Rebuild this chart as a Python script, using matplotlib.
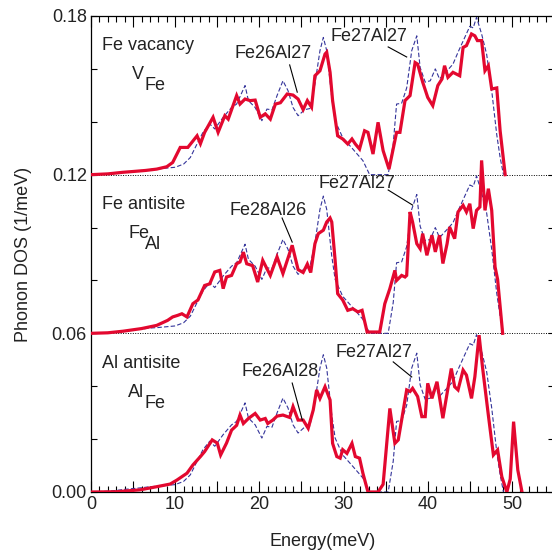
import numpy as np
import matplotlib

matplotlib.use("Agg")
import matplotlib.pyplot as plt
from matplotlib.ticker import MultipleLocator, FuncFormatter

# (energy meV, DOS 1/meV)
vacancy_dos = np.array([
    (0, 0), (2, 0.0003), (3.8, 0.0009), (5, 0.0012), (6.5, 0.0016), (7.8, 0.0021),
    (9, 0.003), (9.7, 0.0046), (10.6, 0.0103), (11.5, 0.0103), (12.6, 0.0147),
    (13, 0.0117), (13.5, 0.016), (14.5, 0.0217), (15.1, 0.016), (15.9, 0.0223),
    (16.3, 0.021), (17.3, 0.0299), (17.7, 0.0267), (18.3, 0.0286), (18.9, 0.028),
    (19.5, 0.0282), (20.1, 0.0217), (20.7, 0.023), (21.3, 0.021), (21.9, 0.0267),
    (22.5, 0.0272), (23.3, 0.0305), (24, 0.0301), (24.6, 0.0286), (25.2, 0.0246),
    (25.7, 0.028), (26.2, 0.0255), (26.6, 0.0374), (27.2, 0.0393), (27.8, 0.0456),
    (28, 0.0463), (28.4, 0.0387), (28.7, 0.028), (29.3, 0.0147), (29.9, 0.0135),
    (30.5, 0.0116), (31, 0.0135), (31.4, 0.0116), (31.9, 0.0097), (32.5, 0.0166),
    (32.9, 0.016), (33.5, 0.0078), (34.1, 0.0198), (34.7, 0.0091), (35.4, 0.0021),
    (36.3, 0.016), (36.7, 0.016), (37.3, 0.028), (37.9, 0.0299), (38.5, 0.0424),
    (38.8, 0.0418), (39.4, 0.035), (40, 0.0292), (40.6, 0.0261), (41.2, 0.0337),
    (41.7, 0.0362), (42, 0.0412), (42.4, 0.0368), (43, 0.0387), (43.8, 0.0374),
    (44.2, 0.0481), (44.6, 0.0488), (45.2, 0.0532), (45.6, 0.0525), (45.9, 0.0507),
    (46.4, 0.0507), (46.8, 0.0393), (47.2, 0.0412), (47.6, 0.0324), (48.2, 0.0328),
    (48.6, 0.0166), (49.2, 0),
])

fe_antisite_dos = np.array([
    (0, 0), (2, 0.0002), (3.8, 0.0008), (6, 0.0018), (7.8, 0.003), (9.1, 0.0049),
    (9.7, 0.0062), (10.3, 0.0068), (10.8, 0.0074), (11.4, 0.0062), (12.1, 0.0112),
    (12.7, 0.0126), (13.5, 0.0181), (14.1, 0.0187), (14.7, 0.0232), (15.3, 0.0238),
    (15.7, 0.0169), (16.1, 0.0213), (16.7, 0.0219), (17.3, 0.0263), (17.7, 0.027),
    (18.1, 0.0307), (18.5, 0.0263), (19.2, 0.0256), (19.8, 0.0194), (20.4, 0.0276),
    (21.3, 0.0219), (22.1, 0.0289), (22.8, 0.0226), (23.9, 0.0333), (24.6, 0.0241),
    (25.2, 0.023), (25.7, 0.0262), (26.1, 0.023), (26.6, 0.0339), (27, 0.0377),
    (27.6, 0.039), (28, 0.0421), (28.4, 0.0436), (28.6, 0.0421), (29, 0.0276),
    (29.3, 0.015), (29.9, 0.0126), (30.5, 0.0087), (31.1, 0.0093), (31.7, 0.0081),
    (32.2, 0.0087), (32.8, 0.0005), (34.3, 0.0005), (34.9, 0.0112), (35.5, 0.0169),
    (36.1, 0.0238), (36.3, 0.02), (36.9, 0.0219), (37.3, 0.0213), (37.5, 0.0219),
    (37.9, 0.0459), (38.2, 0.0421), (38.7, 0.0339), (39.1, 0.032), (39.4, 0.0377),
    (39.9, 0.0295), (40.5, 0.0371), (40.9, 0.0308), (41.4, 0.0371), (41.8, 0.0264),
    (42.3, 0.0339), (42.6, 0.0402), (43.2, 0.0358), (43.6, 0.0459), (44.2, 0.0484),
    (44.6, 0.0459), (45, 0.049), (45.4, 0.0396), (45.8, 0.0465), (46.2, 0.0478),
    (46.4, 0.0654), (46.8, 0.0465), (47.2, 0.0547), (47.6, 0.0465), (48, 0.0251),
    (48.3, 0.0204), (48.9, 0),
])

al_antisite_dos = np.array([
    (0, 0), (3, 0.0001), (3.8, 0.0003), (5.8, 0.0008), (7.8, 0.002), (9.4, 0.003),
    (10.2, 0.0045), (11.4, 0.0071), (12.1, 0.0102), (13, 0.0134), (13.5, 0.0153),
    (14.4, 0.0197), (15, 0.0185), (15.4, 0.014), (16.1, 0.0185), (16.7, 0.0234),
    (17.3, 0.0252), (17.7, 0.0291), (18.1, 0.0259), (18.7, 0.0278), (19.5, 0.0297),
    (20.1, 0.0272), (20.7, 0.0278), (21, 0.0259), (21.6, 0.0272), (22.1, 0.0287),
    (22.8, 0.0291), (23.6, 0.0282), (24, 0.0323), (24.6, 0.0272), (25.2, 0.0272),
    (25.8, 0.0241), (26.4, 0.031), (26.8, 0.0386), (27.2, 0.0354), (27.8, 0.0398),
    (28.4, 0.0348), (28.7, 0.0184), (29.2, 0.0134), (29.6, 0.0128), (29.9, 0.016),
    (30.4, 0.0146), (31, 0.0184), (31.4, 0.0134), (31.9, 0.0128), (32.3, 0.0071),
    (32.9, 0), (34.1, 0), (34.7, 0.0029), (35.5, 0.0316), (36.1, 0.0184),
    (36.5, 0.0197), (36.9, 0.0272), (37.5, 0.0386), (37.9, 0.038), (38.2, 0.0392),
    (38.8, 0.0361), (39.3, 0.0285), (39.7, 0.0285), (40, 0.0411), (40.5, 0.0354),
    (41.1, 0.0417), (41.8, 0.0279), (42.4, 0.0392), (42.8, 0.0467), (43.2, 0.0398),
    (43.6, 0.0386), (44.2, 0.0461), (44.6, 0.0442), (45.2, 0.0354), (45.6, 0.0436),
    (46.1, 0.0593), (46.5, 0.0474), (47.2, 0.0291), (47.8, 0.014), (48.3, 0.0159),
    (48.8, 0.0058), (49.4, 0), (49.8, 0.0049), (50.2, 0.0266), (50.7, 0.0083),
    (51.2, 0),
])

# perfect crystal DOS (dashed), same in every panel
perfect_dos = np.array([
    (0, 0), (2, 0.0003), (3, 0.0006), (4, 0.001), (5, 0.0013), (6, 0.0016), (7, 0.002),
    (8, 0.0022), (9, 0.0025), (10, 0.0028), (11, 0.004), (11.8, 0.0065), (12.5, 0.011),
    (13.3, 0.016), (14.1, 0.0192), (14.7, 0.0173), (15.7, 0.0217), (16.7, 0.0254),
    (17.3, 0.0267), (18.3, 0.0337), (18.7, 0.028), (19.5, 0.0254), (20.3, 0.0204),
    (20.9, 0.0248), (21.5, 0.0245), (22.1, 0.0299), (22.8, 0.0355), (23.4, 0.0318),
    (24, 0.0254), (24.6, 0.0223), (25.4, 0.0246), (26, 0.025), (26.6, 0.0343),
    (27.2, 0.0469), (27.6, 0.0519), (28, 0.0469), (28.6, 0.0292), (29, 0.0204),
    (29.9, 0.014), (31.1, 0.0097), (32.3, 0.0053), (33.1, 0), (35.3, 0), (35.9, 0.0116),
    (36.3, 0.0267), (36.9, 0.027), (37.5, 0.0328), (38.1, 0.0469), (38.7, 0.0525),
    (39.1, 0.0405), (39.7, 0.035), (40.3, 0.0355), (40.9, 0.04), (41.4, 0.0362),
    (42.3, 0.0393), (43, 0.0418), (43.6, 0.0463), (44.4, 0.0519), (45, 0.0561),
    (45.4, 0.0555), (45.8, 0.0595), (46.4, 0.0532), (47, 0.0455), (47.6, 0.0318),
    (48.2, 0.0151), (48.6, 0.0065), (49, 0),
])

offsets = [0.12, 0.06, 0.0]
defect_curves = [vacancy_dos, fe_antisite_dos, al_antisite_dos]
titles = ["Fe vacancy", "Fe antisite", "Al antisite"]
symbols = [("V", "Fe"), ("Fe", "Al"), ("Al", "Fe")]

RED = "#e3082f"
BLUE = "#34349a"
TXT = "#222222"

plt.rcParams["font.family"] = ["Liberation Sans", "DejaVu Sans"]
plt.rcParams["font.size"] = 13

fig = plt.figure(figsize=(5.52, 5.52), dpi=100)
ax = fig.add_axes([91 / 552, 60 / 552, 463 / 552, 476 / 552])

for off in offsets[:2]:
    ax.axhline(off, color="black", lw=0.7, ls=(0, (1, 1.5)), zorder=1)

for off, curve in zip(offsets, defect_curves):
    ax.plot(perfect_dos[:, 0], perfect_dos[:, 1] + off, color=BLUE, lw=0.8,
            ls=(0, (4, 2)), zorder=2)
    ax.plot(curve[:, 0], curve[:, 1] + off, color=RED, lw=2.3, zorder=3,
            solid_joinstyle="miter")

# panel labels (positions relative to each baseline)
for off, title, (main, sub) in zip(offsets, titles, symbols):
    ax.text(1.3, off + 0.0487, title, ha="left", va="center", color=TXT, fontsize=13)
    ax.text(4.4 if main != "V" else 4.87, off + 0.0377, main, ha="left", va="center",
            color=TXT, fontsize=13)
    ax.text(6.4, off + 0.0336, sub, ha="left", va="center", color=TXT, fontsize=13)

# supercell annotations: (text, text x, text y, line start, line end)
notes = [
    ("Fe26Al27", 17.0, 0.166, (23.6, 0.1615), (24.5, 0.1512)),
    ("Fe27Al27", 28.5, 0.1724, (35.3, 0.1683), (37.5, 0.1645)),
    ("Fe28Al26", 16.5, 0.1066, (22.7, 0.1036), (23.9, 0.0945)),
    ("Fe27Al27", 27.0, 0.1168, (35.3, 0.1142), (38.2, 0.1085)),
    ("Fe26Al28", 17.9, 0.0454, (23.9, 0.0412), (25.1, 0.0272)),
    ("Fe27Al27", 29.1, 0.0526, (35.9, 0.0492), (38.1, 0.0435)),
]
for label, tx, ty, p0, p1 in notes:
    ax.text(tx, ty, label, ha="left", va="center", color=TXT, fontsize=13)
    ax.plot([p0[0], p1[0]], [p0[1], p1[1]], color="black", lw=0.8, zorder=4)

ax.set_xlim(0, 55)
ax.set_ylim(0, 0.18)
ax.xaxis.set_major_locator(MultipleLocator(5))
ax.xaxis.set_minor_locator(MultipleLocator(1))
ax.xaxis.set_major_formatter(FuncFormatter(lambda v, p: f"{v:.0f}" if round(v) % 10 == 0 else ""))
ax.yaxis.set_major_locator(MultipleLocator(0.06))
ax.yaxis.set_minor_locator(MultipleLocator(0.02))
ax.yaxis.set_major_formatter(FuncFormatter(lambda v, p: f"{v:.2f}"))
ax.tick_params(which="both", direction="in", top=True, right=True, colors="black",
               labelcolor=TXT, labelsize=13, width=0.8)
ax.tick_params(which="major", length=8, pad=3)
ax.tick_params(which="minor", length=4)
ax.tick_params(axis="y", which="major", length=4)
for s in ax.spines.values():
    s.set_linewidth(0.9)

ax.set_xlabel("Energy(meV)", color=TXT, fontsize=13, labelpad=14)
ax.set_ylabel("Phonon DOS (1/meV)", color=TXT, fontsize=13, labelpad=14)

fig.savefig("out.png", dpi=100)
